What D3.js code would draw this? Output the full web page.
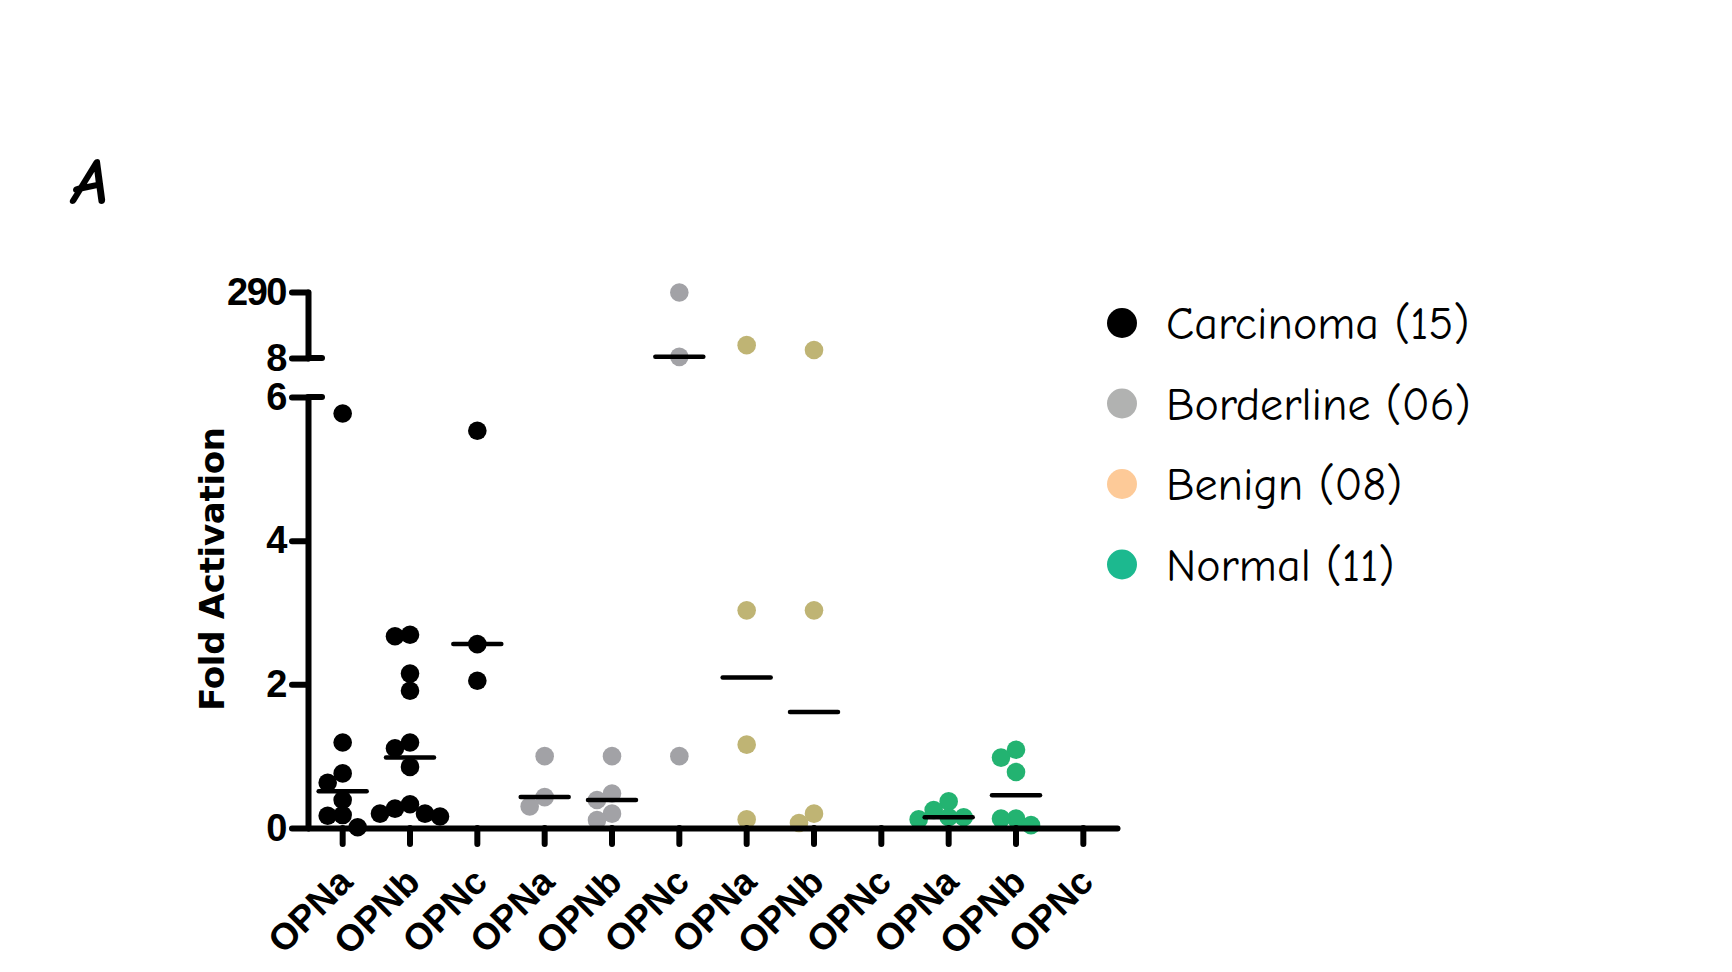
<!DOCTYPE html>
<html>
<head>
<meta charset="utf-8">
<script src="https://cdn.jsdelivr.net/npm/d3@7"></script>
<style>
    body { margin: 0; background: #fff; }
    text { fill: #000; }
</style>
</head>
<body>
<div id="chart"></div>
<script>
// groups shown in the legend
var groups = ["Carcinoma (15)", "Borderline (06)", "Benign (08)", "Normal (11)"];
// isoforms measured for each group
var isoforms = ["OPNa", "OPNb", "OPNc"];

// fold activation values, one list per isoform (OPNa, OPNb, OPNc)
var carcinoma = [
    [5.77, 1.19, 0.76, 0.63, 0.39, 0.18, 0.17, 0.01],
    [2.69, 2.67, 2.15, 1.91, 1.19, 1.11, 0.85, 0.33, 0.27, 0.20, 0.20, 0.16],
    [5.53, 2.56, 2.05]
];
var borderline = [
    [1.00, 0.43, 0.30],
    [1.00, 0.48, 0.39, 0.20, 0.11],
    [288, 13, 1.00]
];
var benign = [
    [63, 3.03, 1.16, 0.12],
    [42, 3.03, 0.20, 0.07],
    []
];
var normal = [
    [0.37, 0.25, 0.15, 0.15, 0.12],
    [1.09, 0.98, 0.78, 0.13, 0.13, 0.04],
    []
];

// y tick labels, lower and upper (broken) segment
var yTicksLow = [0, 2, 4, 6];
var yTicksHigh = [8, 290];

var pointColors = ["#000000", "#a2a2a6", "#bfb474", "#23b371"];
var legendColors = ["#000000", "#b1b2b1", "#fdca98", "#1cb98f"];

var width = 1732, height = 972;
var svg = d3.select("#chart").append("svg")
    .attr("width", width)
    .attr("height", height);

var axisX = 308, baseY = 828;

// one column per group x isoform
var columns = [];
[carcinoma, borderline, benign, normal].forEach(function (g, gi) {
    g.forEach(function (vals, ii) {
        columns.push({ group: gi, iso: ii, values: vals });
    });
});

var x = d3.scaleBand().domain(d3.range(columns.length)).range([309, 1117]);
var yLow = d3.scaleLinear().domain([0, 6]).range([baseY, 397]);
var yHigh = d3.scaleLinear().domain([8, 290]).range([358, 292]);
function y(v) { return v > 7 ? yHigh(v) : yLow(v); }

var radius = 9.3,
    minDist = radius * 1.6,
    step = 15;

// simple beeswarm: push overlapping points sideways
columns.forEach(function (col) {
    var placed = [];
    col.values.slice().sort(d3.descending).forEach(function (v) {
        var cy = y(v);
        for (var k = 0; k < 30; k++) {
            var off = k === 0 ? 0 : (k % 2 ? -1 : 1) * Math.ceil(k / 2) * step;
            var ok = placed.every(function (p) {
                return Math.hypot(p.dx - off, p.cy - cy) >= minDist;
            });
            if (ok) { placed.push({ v: v, dx: off, cy: cy }); break; }
        }
    });
    col.points = placed;
});

var fontAxis = "'Liberation Sans', Arial, Helvetica, sans-serif";
var fontHand = "'Comic Sans MS', 'Comic Neue', 'Noto Sans', sans-serif";

// points
var cols = svg.append("g").selectAll("g")
    .data(columns)
    .enter().append("g")
    .attr("transform", function (d) { return "translate(" + (x(d.group * 3 + d.iso) + x.bandwidth() / 2) + ",0)"; });

cols.selectAll("circle")
    .data(function (d) { return d.points.map(function (p) { p.group = d.group; return p; }); })
    .enter().append("circle")
    .attr("cx", function (p) { return p.dx; })
    .attr("cy", function (p) { return p.cy; })
    .attr("r", radius)
    .attr("fill", function (p) { return pointColors[p.group]; });

// median lines
cols.filter(function (d) { return d.values.length; })
    .append("line")
    .attr("x1", -24).attr("x2", 24)
    .attr("y1", function (d) { return y(d3.median(d.values)); })
    .attr("y2", function (d) { return y(d3.median(d.values)); })
    .attr("stroke", "#000")
    .attr("stroke-width", 4.5)
    .attr("stroke-linecap", "round");

function styleAxis(g) {
    g.selectAll(".domain, .tick line")
        .attr("stroke", "#000")
        .attr("stroke-width", 6)
        .attr("stroke-linecap", "round");
    g.selectAll("text")
        .style("font-family", fontAxis)
        .style("font-weight", "bold")
        .attr("fill", "#000");
}

// x axis
var gx = svg.append("g")
    .attr("transform", "translate(0," + baseY + ")")
    .call(d3.axisBottom(x).tickSize(16).tickSizeOuter(0)
        .tickFormat(function (i) { return isoforms[i % 3]; }))
    .call(styleAxis);
gx.selectAll("text")
    .attr("x", 0).attr("y", 0).attr("dy", 0)
    .attr("transform", "translate(12,56) rotate(-45)")
    .style("text-anchor", "end")
    .style("font-size", "37px");

// y axis, lower segment
var gyLow = svg.append("g")
    .attr("transform", "translate(" + axisX + ",0)")
    .call(d3.axisLeft(yLow).tickValues(yTicksLow).tickFormat(d3.format("d"))
        .tickSize(16).tickSizeOuter(0).tickPadding(6))
    .call(styleAxis);
// y axis, upper segment
var gyHigh = svg.append("g")
    .attr("transform", "translate(" + axisX + ",0)")
    .call(d3.axisLeft(yHigh).tickValues(yTicksHigh).tickFormat(d3.format("d"))
        .tickSize(16).tickSizeOuter(0).tickPadding(6))
    .call(styleAxis);
[gyLow, gyHigh].forEach(function (g) {
    g.selectAll("text")
        .style("font-size", "38px")
        .attr("letter-spacing", "-1.5px");
});

// caps at the axis break
[yLow(6), yHigh(8)].forEach(function (cy) {
    svg.append("line")
        .attr("x1", axisX).attr("x2", axisX + 14)
        .attr("y1", cy).attr("y2", cy)
        .attr("stroke", "#000")
        .attr("stroke-width", 6)
        .attr("stroke-linecap", "round");
});

// y title
svg.append("text")
    .attr("transform", "translate(224,569) rotate(-90)")
    .attr("text-anchor", "middle")
    .style("font-family", "Verdana, 'DejaVu Sans', sans-serif")
    .style("font-weight", "bold")
    .style("font-size", "34px")
    .attr("letter-spacing", "-0.3px")
    .text("Fold Activation");

// panel letter
svg.append("text")
    .attr("x", 72).attr("y", 204)
    .style("font-family", fontHand)
    .style("font-style", "italic")
    .style("font-weight", "bold")
    .style("font-size", "66px")
    .text("A");

// legend
var legend = svg.append("g").selectAll("g")
    .data(groups)
    .enter().append("g")
    .attr("transform", function (d, i) { return "translate(1122," + (323 + i * 80.5) + ")"; });

legend.append("circle")
    .attr("r", 15)
    .attr("fill", function (d, i) { return legendColors[i]; });

legend.append("text")
    .attr("x", 44)
    .attr("dy", "0.35em")
    .style("font-family", fontHand)
    .style("font-weight", "500")
    .style("font-size", "46px")
    .text(function (d) { return d; });
</script>
</body>
</html>
